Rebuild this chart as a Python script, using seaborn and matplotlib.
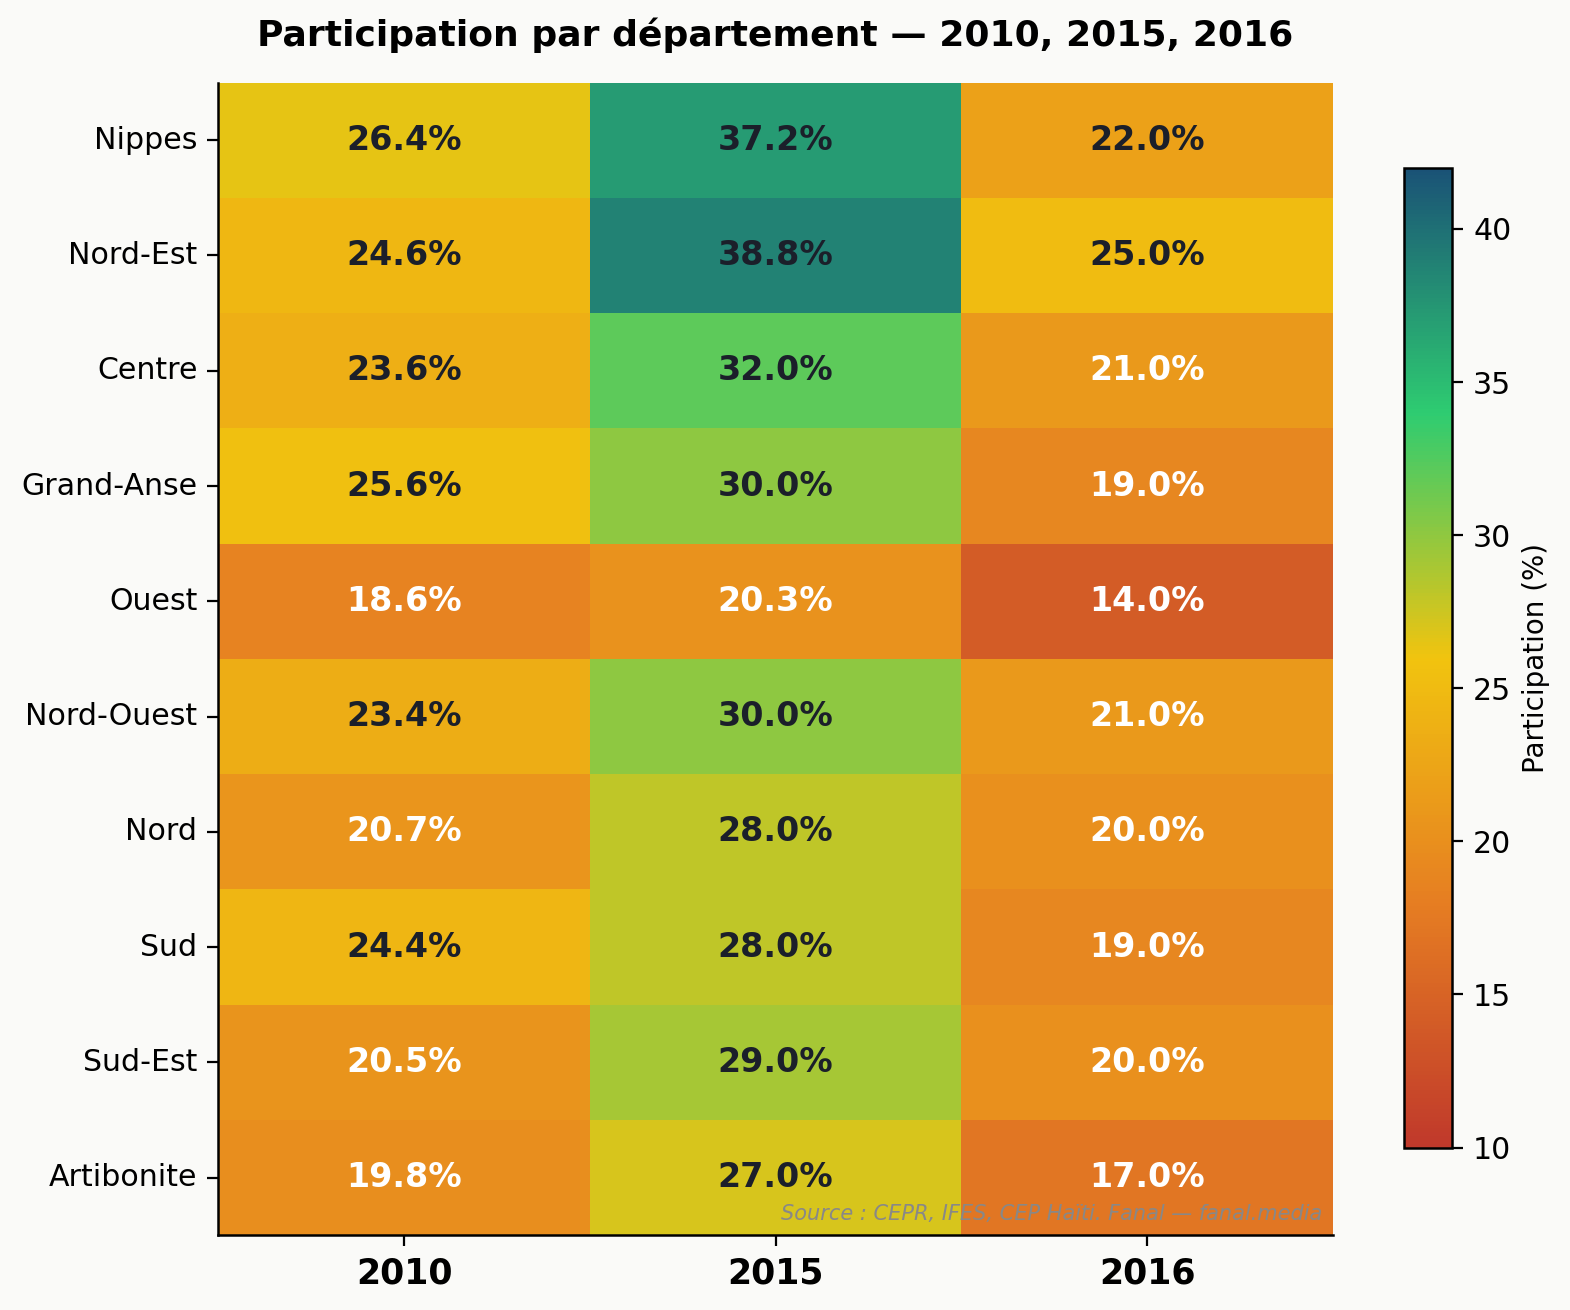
import numpy as np
import pandas as pd
import matplotlib
matplotlib.use('Agg')
import matplotlib.pyplot as plt
import seaborn as sns
from matplotlib.colors import LinearSegmentedColormap

# data
departements = ["Nippes", "Nord-Est", "Centre", "Grand-Anse", "Ouest",
                "Nord-Ouest", "Nord", "Sud", "Sud-Est", "Artibonite"]
annees = ["2010", "2015", "2016"]
part_2010 = [26.4, 24.6, 23.6, 25.6, 18.6, 23.4, 20.7, 24.4, 20.5, 19.8]
part_2015 = [37.2, 38.8, 32.0, 30.0, 20.3, 30.0, 28.0, 28.0, 29.0, 27.0]
part_2016 = [22.0, 25.0, 21.0, 19.0, 14.0, 21.0, 20.0, 19.0, 20.0, 17.0]

df = pd.DataFrame({"2010": part_2010, "2015": part_2015, "2016": part_2016},
                  index=departements)

BG = "#fafaf8"
cmap = LinearSegmentedColormap.from_list(
    "fanal", ["#c0392b", "#e67e22", "#f1c40f", "#2ecc71", "#1a5276"])

plt.rcParams['font.family'] = ['DejaVu Sans']
fig = plt.figure(figsize=(7.85, 6.55), dpi=200, facecolor=BG)
ax = fig.add_axes([0.139, 0.057, 0.71, 0.88])
cax = fig.add_axes([0.894, 0.124, 0.031, 0.748])
ax.set_facecolor(BG)

sns.heatmap(df, ax=ax, cbar_ax=cax, cmap=cmap, vmin=10, vmax=42,
            annot=False, linewidths=0,
            cbar_kws={"label": "Participation (%)"})

# annotations: white on the warm cells, dark otherwise
for i, dep in enumerate(departements):
    for j, an in enumerate(annees):
        v = df.loc[dep, an]
        col = "white" if v < 22 else "#1b1f2a"
        ax.text(j + 0.5, i + 0.5, f"{v:.1f}%", ha="center", va="center",
                fontsize=12, fontweight="bold", color=col)

ax.set_title("Participation par département — 2010, 2015, 2016",
             fontsize=13, fontweight="bold", pad=13)
ax.set_xlabel("")
ax.set_ylabel("")
ax.set_xticklabels(annees, fontsize=12.5, fontweight="bold")
ax.set_yticklabels(departements, fontsize=10.8, rotation=0)
ax.tick_params(axis="both", length=4, width=0.8, color="black")
for side in ["left", "bottom"]:
    ax.spines[side].set_visible(True)
    ax.spines[side].set_color("black")
    ax.spines[side].set_linewidth(0.9)

ax.text(0.99, 0.01, "Source : CEPR, IFES, CEP Haïti. Fanal — fanal.media",
        transform=ax.transAxes, ha="right", va="bottom", fontsize=7.5,
        style="italic", color="#888888")

cb = ax.collections[0].colorbar
cb.outline.set_edgecolor("black")
cb.outline.set_linewidth(0.9)
cb.ax.tick_params(labelsize=10.8, length=4)
cb.set_label("Participation (%)", fontsize=10)
cb.set_ticks([10, 15, 20, 25, 30, 35, 40])

fig.savefig("out.png", dpi=200, facecolor=BG)
